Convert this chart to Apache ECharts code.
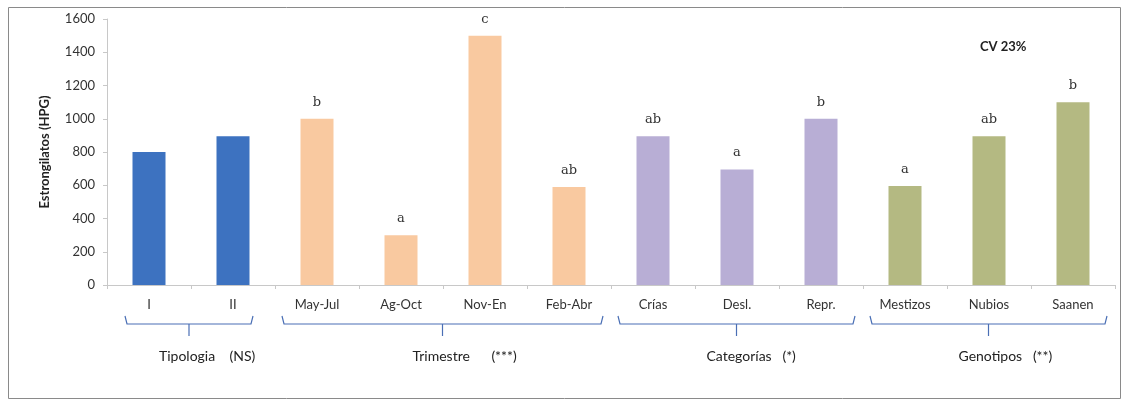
<!DOCTYPE html>
<html>
<head>
<meta charset="utf-8">
<script src="https://cdn.jsdelivr.net/npm/echarts@6/dist/echarts.min.js"></script>
<style>
  html, body { margin: 0; padding: 0; background: #fff; }
  #main { width: 1122px; height: 401px; }
</style>
</head>
<body>
<div id="main"></div>
<script>
// datos
var categories = ['I', 'II', 'May-Jul', 'Ag-Oct', 'Nov-En', 'Feb-Abr', 'Crías', 'Desl.', 'Repr.', 'Mestizos', 'Nubios', 'Saanen'];
var values = [800, 895, 1000, 300, 1500, 590, 895, 695, 1000, 595, 895, 1100];
var letters = ['', '', 'b', 'a', 'c', 'ab', 'ab', 'a', 'b', 'a', 'ab', 'b'];
var groupOf = [0, 0, 1, 1, 1, 1, 2, 2, 2, 3, 3, 3];
var groupNames = ['Tipologia    (NS)', 'Trimestre      (***)', 'Categorías   (*)', 'Genotipos   (**)'];
var groupColors = ['#3d72c0', '#f9c9a0', '#b8aed5', '#b4b982'];
var yTicks = [0, 200, 400, 600, 800, 1000, 1200, 1400, 1600];

var font = 'Lato, "Open Sans", sans-serif';
var chart = echarts.init(document.getElementById('main'));

var option = {
  backgroundColor: '#fff',
  animation: false,
  textStyle: { fontFamily: font },
  title: {
    text: 'CV 23%',
    left: 975,
    top: 35,
    textStyle: { fontSize: 13, fontWeight: 'bold', color: '#222', fontFamily: font }
  },
  grid: { left: 107, right: 7, top: 19, bottom: 116 },
  xAxis: {
    type: 'category',
    data: categories,
    axisLine: { lineStyle: { color: '#c8c8c8' } },
    axisTick: { show: true, length: 4, lineStyle: { color: '#c8c8c8' } },
    axisLabel: { color: '#333', fontSize: 13, margin: 13, interval: 0 }
  },
  yAxis: {
    type: 'value',
    min: yTicks[0],
    max: yTicks[yTicks.length - 1],
    interval: 200,
    name: 'Estrongilatos (HPG)',
    nameLocation: 'middle',
    nameRotate: 90,
    nameGap: 56,
    nameTextStyle: { fontSize: 13, fontWeight: 'bold', color: '#222' },
    splitLine: { show: false },
    axisLine: { show: true, lineStyle: { color: '#c8c8c8' } },
    axisTick: { show: true, length: 4, lineStyle: { color: '#c8c8c8' } },
    axisLabel: { color: '#333', fontSize: 13, margin: 12, formatter: function (v) { return String(v); } }
  },
  series: [{
    type: 'bar',
    barWidth: 33,
    data: values.map(function (v, i) {
      return { value: v, itemStyle: { color: groupColors[groupOf[i]] } };
    }),
    label: {
      show: true,
      position: 'top',
      distance: 10,
      color: '#333',
      fontSize: 13,
      fontFamily: 'DejaVu Serif, serif',
      formatter: function (p) { return letters[p.dataIndex]; }
    }
  }]
};
chart.setOption(option);

// llaves de agrupación bajo el eje
function drawBrackets() {
  var els = [];
  var lineStyle = { stroke: '#4a6fb5', lineWidth: 1.2, fill: null };
  var yTop = 316, yMid = 324, yLow = 336;
  for (var g = 0; g < groupNames.length; g++) {
    var idx = [];
    groupOf.forEach(function (gg, i) { if (gg === g) idx.push(i); });
    var x0 = chart.convertToPixel({ xAxisIndex: 0 }, idx[0]);
    var x1 = chart.convertToPixel({ xAxisIndex: 0 }, idx[idx.length - 1]);
    var padL = g === 0 ? 24 : 35;
    var padR = g === 0 ? 20 : 34;
    var l = x0 - padL, r = x1 + padR, c = (l + r) / 2;
    els.push({
      type: 'polyline',
      shape: { points: [[l, yTop], [l + 2, yMid], [r - 2, yMid], [r, yTop]] },
      style: lineStyle
    });
    els.push({
      type: 'line',
      shape: { x1: c, y1: yMid, x2: c, y2: yLow },
      style: lineStyle
    });
    els.push({
      type: 'text',
      x: c - 30,
      y: 349,
      style: { text: groupNames[g], fill: '#222', fontSize: 14, fontFamily: font }
    });
  }
  els.push({
    type: 'rect',
    shape: { x: 8.5, y: 7.5, width: 1112, height: 391 },
    style: { fill: null, stroke: '#8a8a8a', lineWidth: 1 }
  });
  chart.setOption({ graphic: els });
}
drawBrackets();
</script>
</body>
</html>
